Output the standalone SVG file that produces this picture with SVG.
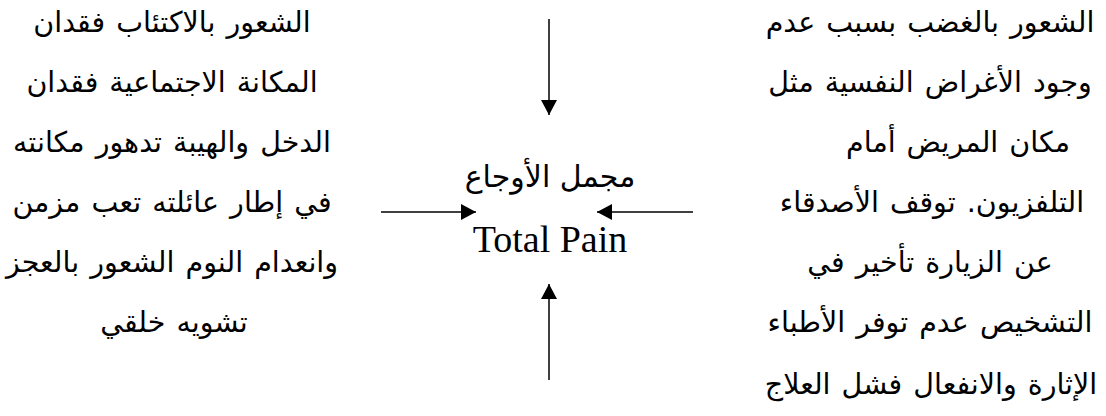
<svg xmlns="http://www.w3.org/2000/svg" width="1106" height="416" viewBox="0 0 1106 416">
<style>
.ar{font-family:"DejaVu Sans","Liberation Sans",sans-serif;font-size:28.5px;word-spacing:2px;fill:#000;text-anchor:middle;direction:rtl}
.en{font-family:"Liberation Serif",serif;font-size:38px;fill:#000;text-anchor:middle}
.ln{stroke:#000;stroke-width:1.5;fill:none;marker-end:url(#ah)}
</style>
<defs>
<marker id="ah" viewBox="0 0 15 16" refX="15" refY="8" markerWidth="15" markerHeight="16" markerUnits="userSpaceOnUse" orient="auto">
<path d="M0,0 L15,8 L0,16 Z" fill="#000"/>
</marker>
</defs>
<rect width="1106" height="416" fill="#fff"/>
<g id="left-node">
<text class="ar" x="172" y="32">الشعور بالاكتئاب فقدان</text>
<text class="ar" x="172" y="92">المكانة الاجتماعية فقدان</text>
<text class="ar" x="172" y="152">الدخل والهيبة تدهور مكانته</text>
<text class="ar" x="172" y="212">في إطار عائلته تعب مزمن</text>
<text class="ar" x="172" y="272">وانعدام النوم الشعور بالعجز</text>
<text class="ar" x="174" y="332">تشويه خلقي</text>
</g>
<g id="right-node">
<text class="ar" x="930" y="32">الشعور بالغضب بسبب عدم</text>
<text class="ar" x="930" y="92">وجود الأغراض النفسية مثل</text>
<text class="ar" x="958" y="152">مكان المريض أمام</text>
<text class="ar" x="932" y="212">التلفزيون. توقف الأصدقاء</text>
<text class="ar" x="930" y="272">عن الزيارة تأخير في</text>
<text class="ar" x="930" y="332">التشخيص عدم توفر الأطباء</text>
<text class="ar" x="931" y="394">الإثارة والانفعال فشل العلاج</text>
</g>
<g id="center-node">
<text class="ar" x="550" y="187" style="font-size:30px;word-spacing:0">مجمل الأوجاع</text>
<text class="en" x="550" y="252">Total Pain</text>
</g>
<g id="connectors">
<line class="ln" x1="549" y1="19" x2="549" y2="115"/>
<line class="ln" x1="381" y1="212" x2="476" y2="212"/>
<line class="ln" x1="693" y1="212" x2="597" y2="212"/>
<line class="ln" x1="549" y1="380" x2="549" y2="284"/>
</g>
</svg>
